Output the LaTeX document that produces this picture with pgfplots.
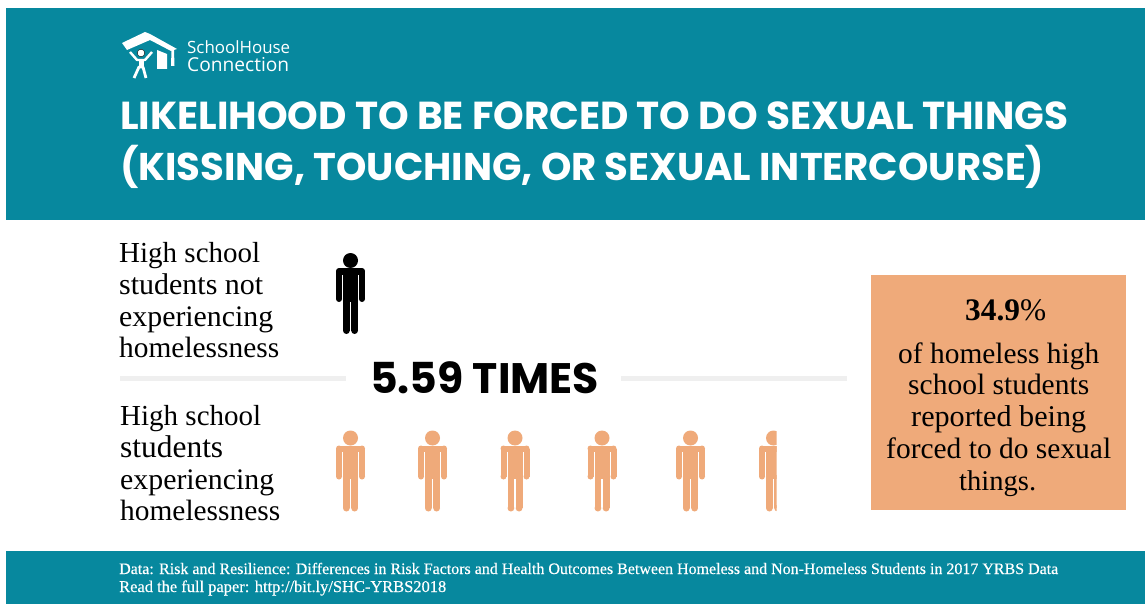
\documentclass[border=0pt]{standalone}
\usepackage{pgfplots}
\pgfplotsset{compat=1.18}
\usepackage{fontspec}
\setmainfont{Liberation Serif}
\newfontfamily\titlefont{Poppins}
\newfontfamily\logofont{Open Sans}
\newfontfamily\footfont[FakeBold=0.4]{Liberation Serif}
\definecolor{teal}{HTML}{07889E}
\definecolor{peach}{HTML}{EFAA7A}
\definecolor{rule}{HTML}{EFEFEF}
\newcommand{\fitw}[2]{\resizebox{#1pt}{!}{#2}}
\newcommand{\rrect}[4]{\pgfpathmoveto{\pgfpoint{#1pt}{#2pt}}\pgfpathlineto{\pgfpoint{#3pt}{#2pt}}\pgfpathlineto{\pgfpoint{#3pt}{#4pt}}\pgfpathlineto{\pgfpoint{#1pt}{#4pt}}\pgfpathclose\pgfusepathqfill}
\newcommand{\pcirc}[3]{\pgfpathcircle{\pgfpoint{#1pt}{#2pt}}{#3pt}\pgfusepathqfill}
\newcommand{\personshape}{%
  \pcirc{0}{33}{7.5}%
  \rrect{-7.5}{25.5}{7.5}{-8}%
  \rrect{-11.5}{25.5}{11.5}{19}%
  \rrect{-14.5}{22.5}{-8.5}{-5.5}%
  \rrect{8.5}{22.5}{14.5}{-5.5}%
  \pcirc{-11.5}{22.5}{3}%
  \pcirc{11.5}{22.5}{3}%
  \pcirc{-11.5}{-5.5}{3}%
  \pcirc{11.5}{-5.5}{3}%
  \rrect{-7.5}{-4}{-0.7}{-37.1}%
  \rrect{0.7}{-4}{7.5}{-37.1}%
  \pcirc{-4.1}{-37.1}{3.4}%
  \pcirc{4.1}{-37.1}{3.4}}
\pgfdeclareplotmark{person}{\personshape}
\pgfdeclareplotmark{personcut}{%
  \pgfpathrectanglecorners{\pgfpoint{-20pt}{-45pt}}{\pgfpoint{3pt}{45pt}}\pgfusepath{clip}%
  \personshape}
\begin{document}
\begin{tikzpicture}
\begin{axis}[width=1145pt,height=604pt,scale only axis,axis lines=none,
  xmin=0,xmax=1145,ymin=0,ymax=604,y dir=reverse,clip=true]
% bands and box
\addplot[fill=white,draw=none] coordinates {(0,0)(1145,0)(1145,604)(0,604)} \closedcycle;
\addplot[fill=teal,draw=none] coordinates {(6,8)(1145,8)(1145,220)(6,220)} -- cycle;
\addplot[fill=teal,draw=none] coordinates {(6,551)(1145,551)(1145,604)(6,604)} -- cycle;
\addplot[fill=peach,draw=none] coordinates {(871,275)(1126,275)(1126,510)(871,510)} -- cycle;
% separator
\addplot[rule,line width=5pt] coordinates {(120,378)(346,378)};
\addplot[rule,line width=5pt] coordinates {(621,378)(847,378)};
% people
\addplot[only marks,mark=person,mark options={fill=black,draw=none}] coordinates {(350.5,293.5)};
\addplot[only marks,mark=person,mark options={fill=peach,draw=none}] coordinates {(350.5,471)(432.5,471)(515,471)(602,471)(690.5,471)};
\addplot[only marks,mark=personcut,mark options={fill=peach,draw=none}] coordinates {(773.5,471)};
% logo
\addplot[fill=white,draw=none] coordinates {(122,43)(145,32)(150,34)(177,49)(171,51)(150,40)(127,50)} -- cycle;
\addplot[fill=white,draw=none] coordinates {(157,50)(167,54)(167,69)(157,69)} -- cycle;
\addplot[fill=white,draw=none] coordinates {(171.5,50)(174,50)(174.5,66)(171,66)} -- cycle;
\addplot[white,line width=2.4pt,line join=round] coordinates {(130,52)(137,60)(145,60)(152,52)};
\addplot[white,line width=5pt] coordinates {(141,60)(141,68)};
\addplot[white,line width=2.8pt,line join=round] coordinates {(134,78)(139,67)(143,67)(146,78)};
\addplot[only marks,mark=*,mark size=3.8pt,mark options={fill=white,draw=none}] coordinates {(141,53)};
\node[anchor=base west,inner sep=0,white] at (axis cs:187,54) {\fitw{103}{\logofont SchoolHouse}};
\node[anchor=base west,inner sep=0,white] at (axis cs:187,72) {\fitw{102}{\logofont Connection}};
% title
\node[anchor=base west,inner sep=0,white] at (axis cs:120,130) {\fitw{948}{\titlefont\bfseries LIKELIHOOD TO BE FORCED TO DO SEXUAL THINGS}};
\node[anchor=base west,inner sep=0,white] at (axis cs:120,181) {\fitw{924}{\titlefont\bfseries (KISSING, TOUCHING, OR SEXUAL INTERCOURSE)}};
% left labels
\node[anchor=base west,inner sep=0] at (axis cs:119,262) {\fitw{141}{High school}};
\node[anchor=base west,inner sep=0] at (axis cs:119,294) {\fitw{144}{students not}};
\node[anchor=base west,inner sep=0] at (axis cs:119,326) {\fitw{154}{experiencing}};
\node[anchor=base west,inner sep=0] at (axis cs:119,357) {\fitw{160}{homelessness}};
\node[anchor=base west,inner sep=0] at (axis cs:120,425) {\fitw{141}{High school}};
\node[anchor=base west,inner sep=0] at (axis cs:120,457) {\fitw{103}{students}};
\node[anchor=base west,inner sep=0] at (axis cs:120,489) {\fitw{154}{experiencing}};
\node[anchor=base west,inner sep=0] at (axis cs:120,520) {\fitw{160}{homelessness}};
% centre
\node[anchor=base west,inner sep=0] at (axis cs:370,393) {\fitw{229}{\titlefont\bfseries 5.59 TIMES}};
% box
\node[anchor=base west,inner sep=0] at (axis cs:965,320) {\fitw{81}{\bfseries 34.9\mdseries\%}};
\node[anchor=base west,inner sep=0] at (axis cs:898,363) {\fitw{201}{of homeless high}};
\node[anchor=base west,inner sep=0] at (axis cs:908,394) {\fitw{181}{school students}};
\node[anchor=base west,inner sep=0] at (axis cs:911,426) {\fitw{175}{reported being}};
\node[anchor=base west,inner sep=0] at (axis cs:886,458) {\fitw{225}{forced to do sexual}};
\node[anchor=base west,inner sep=0] at (axis cs:959,490) {\fitw{77}{things.}};
% footer
\node[anchor=base west,inner sep=0,white] at (axis cs:119,574) {\fitw{939}{\footfont Data: Risk and Resilience: Differences in Risk Factors and Health Outcomes Between Homeless and Non-Homeless Students in 2017 YRBS Data}};
\node[anchor=base west,inner sep=0,white] at (axis cs:119,592) {\fitw{327}{\footfont Read the full paper: http://bit.ly/SHC-YRBS2018}};
\end{axis}
\end{tikzpicture}
\end{document}
